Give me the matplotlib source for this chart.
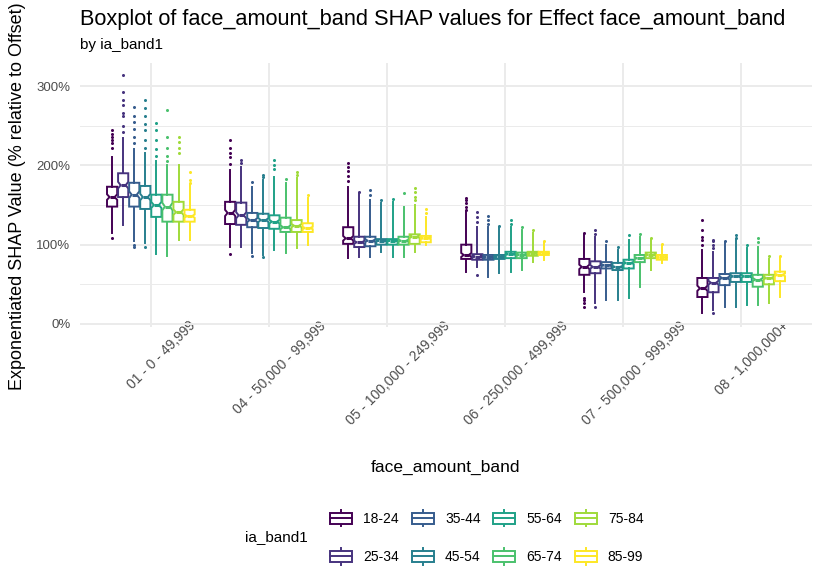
import numpy as np
import matplotlib
matplotlib.use("Agg")
import matplotlib.pyplot as plt
import matplotlib.transforms as mtransforms
from matplotlib.lines import Line2D
from matplotlib.patches import Rectangle
from matplotlib.legend_handler import HandlerBase
from matplotlib.ticker import FixedLocator, FuncFormatter

plt.rcParams["font.family"] = ["Liberation Sans", "DejaVu Sans"]

# ── data (values in % relative to offset) ─────────────────────────────────────

face_bands = ["01 - 0 - 49,999", "04 - 50,000 - 99,999", "05 - 100,000 - 249,999",
              "06 - 250,000 - 499,999", "07 - 500,000 - 999,999", "08 - 1,000,000+"]
age_bands = ["18-24", "25-34", "35-44", "45-54", "55-64", "65-74", "75-84", "85-99"]

# rows = face_amount_band, columns = ia_band1
q1 = [
    [148, 160, 148, 145, 135, 129, 129, 129],
    [126, 125, 122, 121, 120, 116, 116, 116],
    [101, 97, 98, 100, 100, 100, 101, 103],
    [82, 81, 81, 82, 83, 83, 86, 87],
    [62, 64, 70, 68, 70, 78, 83, 81],
    [34, 40, 49, 53, 53, 47, 50, 54],
]
med = [
    [160, 175, 163, 160, 150, 148, 141, 136],
    [140, 137, 131, 131, 129, 122, 124, 121],
    [108, 103, 105, 105, 105, 105, 110, 108],
    [87, 85, 84, 85, 88, 87, 89, 89],
    [72, 72, 74, 72, 77, 83, 87, 84],
    [45, 52, 58, 60, 60, 56, 58, 62],
]
q3 = [
    [173, 190, 178, 174, 163, 163, 154, 144],
    [154, 153, 140, 139, 137, 134, 131, 127],
    [122, 110, 110, 107, 107, 110, 113, 111],
    [100, 88, 87, 87, 91, 90, 91, 91],
    [82, 79, 78, 77, 81, 87, 90, 87],
    [58, 58, 63, 64, 64, 62, 62, 66],
]
whis_lo = [
    [115, 125, 105, 102, 88, 86, 106, 106],
    [97, 97, 90, 87, 93, 90, 96, 100],
    [83, 85, 85, 91, 85, 85, 91, 100],
    [66, 72, 59, 64, 66, 68, 78, 81],
    [40, 26, 30, 30, 33, 47, 68, 77],
    [14, 18, 21, 21, 24, 24, 26, 34],
]
whis_hi = [
    [211, 235, 220, 215, 205, 200, 200, 175],
    [194, 198, 173, 182, 185, 178, 184, 159],
    [173, 165, 156, 152, 154, 148, 150, 135],
    [141, 122, 122, 122, 122, 119, 115, 102],
    [112, 110, 100, 93, 106, 110, 106, 98],
    [93, 91, 102, 106, 96, 97, 82, 83],
]
outliers = [
    [[222, 228, 232, 236, 240, 245, 108], [242, 250, 262, 266, 276, 282, 292, 314],
     [228, 236, 246, 255, 262, 274, 97, 99], [222, 232, 244, 252, 262, 272, 282, 97],
     [212, 220, 232, 244, 253], [206, 212, 222, 236, 270], [215, 222, 230, 236],
     [178, 182, 192]],
    [[202, 210, 216, 222, 232, 88], [203, 207], [179, 86], [185, 188, 84],
     [195, 201, 207], [183], [188, 192], [163]],
    [[180, 186, 193, 198, 203], [167], [162, 169], [156], [157], [165],
     [156, 160, 166, 171], [140, 145]],
    [[144, 148, 152, 156, 159], [128, 135, 141, 62], [126, 131, 136], [124],
     [126, 131], [122], [118], [105]],
    [[115, 22, 26, 30, 33], [114, 119, 22], [104], [97], [112], [114], [109], [101]],
    [[100, 106, 110, 118, 131], [96, 100, 104, 106, 14], [105], [109, 112], [100],
     [103, 108], [86], [86]],
]

colors = ["#440154", "#46337E", "#365C8D", "#277F8E",
          "#1FA187", "#4AC16D", "#9FDA3A", "#FDE725"]

GRID = "#EBEBEB"
AXTXT = "#4D4D4D"
LW = 1.4

# ── figure ────────────────────────────────────────────────────────────────────

W, H = 815, 587
fig = plt.figure(figsize=(W / 100, H / 100), dpi=100)
ax = fig.add_axes([80 / W, 1 - 327 / H, (812 - 80) / W, (327 - 63) / H])

n_grp = len(face_bands)
n_age = len(age_bands)
dodge = 0.75 / n_age
x = np.arange(n_grp)

for j, (band, c) in enumerate(zip(age_bands, colors)):
    stats = []
    for i in range(n_grp):
        iqr = q3[i][j] - q1[i][j]
        stats.append(dict(
            med=med[i][j], q1=q1[i][j], q3=q3[i][j],
            whislo=whis_lo[i][j], whishi=whis_hi[i][j],
            fliers=outliers[i][j],
            cilo=med[i][j] - 0.14 * iqr, cihi=med[i][j] + 0.14 * iqr,
        ))
    pos = x - 0.375 + dodge * (j + 0.5)
    ax.bxp(stats, positions=pos, widths=dodge * 0.92, shownotches=True,
           showcaps=False, patch_artist=True, manage_ticks=False,
           boxprops=dict(facecolor="white", edgecolor=c, linewidth=LW),
           medianprops=dict(color=c, linewidth=2.2, solid_capstyle="butt"),
           whiskerprops=dict(color=c, linewidth=LW),
           flierprops=dict(marker="o", markersize=2.2, markerfacecolor=c,
                           markeredgecolor="none"),
           zorder=3)

ax.set_xlim(-0.6, n_grp - 0.4)
ax.set_ylim(-3.8, 329)
ax.yaxis.set_major_locator(FixedLocator([0, 100, 200, 300]))
ax.yaxis.set_minor_locator(FixedLocator([50, 150, 250]))
ax.yaxis.set_major_formatter(FuncFormatter(lambda v, _: f"{v:.0f}%"))
ax.set_xticks(x)
ax.set_xticklabels(face_bands, rotation=45, ha="center", va="top", fontsize=10)

ax.grid(True, which="major", color=GRID, linewidth=1.4)
ax.grid(True, which="minor", axis="y", color=GRID, linewidth=0.7)
ax.set_axisbelow(True)
for s in ax.spines.values():
    s.set_visible(False)
ax.tick_params(which="both", length=0, colors=AXTXT)
ax.tick_params(axis="y", pad=7, labelsize=9.5)
ax.tick_params(axis="x", pad=-6)

# nudge the rotated labels a little to the right, like the original
shift = mtransforms.ScaledTranslation(8 / 72, 0, fig.dpi_scale_trans)
for lab in ax.get_xticklabels():
    lab.set_transform(lab.get_transform() + shift)

# ── texts ─────────────────────────────────────────────────────────────────────

fig.text(80 / W, 1 - 20 / H, "Boxplot of face_amount_band SHAP values for Effect face_amount_band",
         fontsize=15.7, ha="left", va="center")
fig.text(80 / W, 1 - 45 / H, "by ia_band1", fontsize=11, ha="left", va="center")
fig.text(18 / W, 1 - 196 / H, "Exponentiated SHAP Value (% relative to Offset)",
         fontsize=13, rotation=90, ha="center", va="center")
fig.text(446 / W, 1 - 467 / H, "face_amount_band", fontsize=12.5, ha="center", va="center")
fig.text(245 / W, 1 - 537 / H, "ia_band1", fontsize=11, ha="left", va="center")


# ── legend with boxplot keys ──────────────────────────────────────────────────

class BoxKey(HandlerBase):
    def create_artists(self, legend, orig_handle, xdescent, ydescent,
                       width, height, fontsize, trans):
        c = orig_handle.get_color()
        x0, y0 = -xdescent, -ydescent
        xm = x0 + width / 2
        box = Rectangle((x0, y0 + 0.17 * height), width, 0.66 * height,
                        facecolor="white", edgecolor=c, linewidth=LW, transform=trans)
        mline = Line2D([x0, x0 + width], [y0 + height / 2] * 2, color=c,
                       linewidth=LW, transform=trans)
        wt = Line2D([xm, xm], [y0 + 0.83 * height, y0 + height], color=c,
                    linewidth=LW, transform=trans)
        wb = Line2D([xm, xm], [y0, y0 + 0.17 * height], color=c,
                    linewidth=LW, transform=trans)
        return [wb, wt, box, mline]


handles = [Line2D([], [], color=c) for c in colors]
fig.legend(handles, age_bands, handler_map={Line2D: BoxKey()},
           loc="upper left", bbox_to_anchor=(330 / W, 1 - 510 / H),
           ncol=4, frameon=False, fontsize=10, borderpad=0, borderaxespad=0,
           handlelength=1.6, handleheight=1.45, handletextpad=0.8,
           labelspacing=1.56, columnspacing=0.9, labelcolor="black")

fig.savefig("out.png", dpi=100)
